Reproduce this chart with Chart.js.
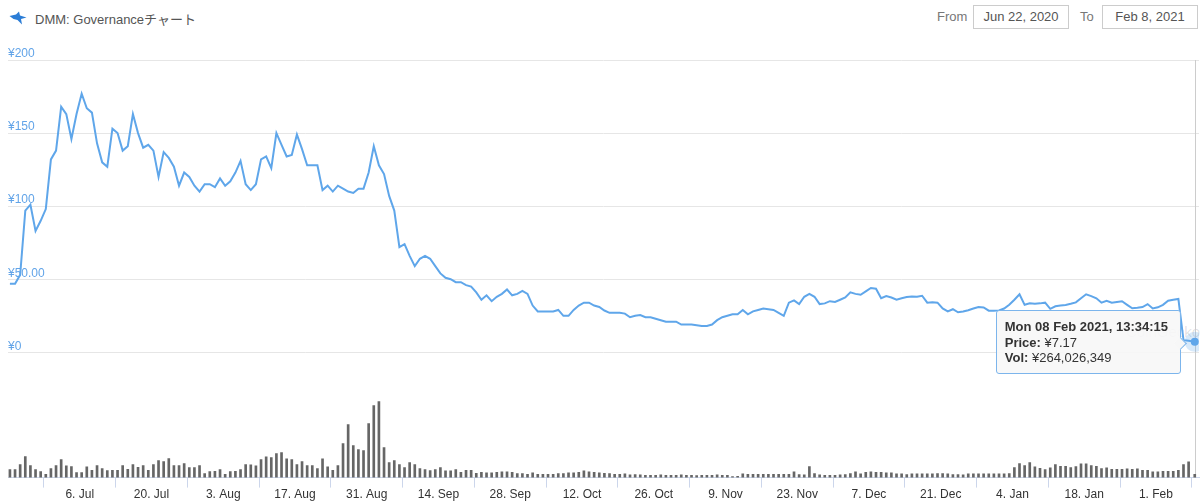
<!DOCTYPE html>
<html lang="ja">
<head>
<meta charset="UTF-8">
<title>DMM: Governanceチャート</title>
<style>
  body {
    margin: 0;
    background: #fff;
    font-family: "Liberation Sans", Arial, "Noto Sans CJK JP", sans-serif;
    color: #555;
  }
  .page { position: relative; width: 1200px; height: 504px; overflow: hidden; }
  .chart-box { position: absolute; left: 0; top: 0; width: 1200px; height: 504px; }
  .logo { position: absolute; left: 9px; top: 11px; }
  .title { position: absolute; left: 35px; top: 9px; font-size: 13px; color: #555; }
  .lbl { position: absolute; top: 5px; line-height: 24px; font-size: 13px; color: #777; }
  .datebox {
    position: absolute; top: 5px; width: 94px; height: 22px; line-height: 22px;
    border: 1px solid #ccc; text-align: center; font-size: 13px; color: #555;
  }
  .watermark {
    position: absolute; left: 1126px; top: 323px; font-size: 15px;
    color: rgba(0, 0, 0, 0.13);
  }
  #tip {
    position: absolute; display: none; box-sizing: border-box;
    width: 185px; height: 64px; padding: 8px 8px;
    background: rgba(247, 247, 247, 0.9);
    border: 1px solid #7cb5ec; border-radius: 3px;
    font-size: 13px; line-height: 15.7px; color: #333; white-space: nowrap;
  }
  #tip::after {
    content: ''; position: absolute; right: -5px; top: 28px;
    width: 8px; height: 8px; background: rgb(247, 247, 247);
    border-top: 1px solid #7cb5ec; border-right: 1px solid #7cb5ec;
    transform: rotate(45deg);
  }
  #tip b { color: #333; }
</style>
</head>
<body>
<div class="page">
  <svg class="logo" width="18" height="14" viewBox="0 0 18 14">
    <path d="M0.5 5 L7 3.5 L10 0.5 L11 4.5 L17.5 6.5 L12 8 L13 13.5 L8.5 9 L4.5 8 Z" fill="#2b7dd6"/>
  </svg>
  <div class="title">DMM: Governanceチャート</div>
  <div class="lbl" style="left:937px">From</div>
  <div class="datebox" style="left:973px">Jun 22, 2020</div>
  <div class="lbl" style="left:1080px">To</div>
  <div class="datebox" style="left:1102px">Feb 8, 2021</div>

  <div class="watermark">CoinGecko</div>
  <div class="chart-box"><canvas id="govChart"></canvas></div>
  <div id="tip"></div>
</div>

<script src="https://cdn.jsdelivr.net/npm/chart.js@4"></script>
<script>
  // daily closes (JPY), Jun 22 2020 -> Feb 7 2021, last one is the live price on Feb 8
  const priceValues = [
    47, 47, 53, 97, 101, 83, 90, 98, 132, 138,
    168, 163, 146, 163, 177, 167, 164, 143, 130, 127,
    153, 150, 138, 141, 163, 150, 140, 142, 138, 120,
    137, 133, 127, 114, 123, 120, 114, 110, 115, 115,
    113, 119, 114, 117, 123, 131, 115, 111, 115, 132,
    134, 126, 150, 142, 134, 135, 149, 139, 128, 128,
    128, 111, 114, 110, 114, 112, 110, 109, 112, 112,
    123, 141, 128, 122, 107, 97, 72, 74, 66, 59,
    64, 66, 64, 59, 54, 51, 50, 48, 48, 46,
    45, 41, 36, 39, 35, 38, 40, 43, 39, 40,
    42, 40, 32, 28, 28, 28, 28, 29, 25, 25,
    29, 32, 34, 34, 32, 31, 28.6, 27, 27, 27,
    26.5, 24, 25, 25.5, 24, 24, 23, 22, 21, 21,
    21, 19, 19, 19, 18.5, 18, 18, 19, 22, 24,
    25, 26, 26, 29, 26, 28, 29, 30, 29.5, 29,
    27, 25, 34, 35.5, 33, 38, 40, 38, 33, 33.5,
    35, 34.5, 36, 37.5, 41, 40, 39.4, 41.7, 44, 43.5,
    37, 38.5, 37.5, 36, 37, 37.8, 38.2, 38, 38.7, 34,
    34.3, 34, 30, 28, 29.5, 27.4, 28, 28.8, 30, 31,
    30.7, 28.5, 28.5, 28.7, 30, 32.5, 36, 39.7, 32.5, 33.5,
    33.3, 33.5, 34, 29.8, 31.5, 32, 32.4, 33.2, 34.2, 37,
    39.7, 38.5, 37, 34, 35.3, 34, 34.5, 35, 32.5, 30.1,
    30.5, 31, 33, 30, 30.8, 32.5, 35.3, 36, 36.5, 8.3,
    7.9, 7.17
  ];

  // volume in millions of yen, same points as priceValues
  const volumeValues = [
    640, 640, 1040, 1680, 960, 640, 480, 264, 720, 960,
    1440, 936, 880, 400, 400, 856, 584, 960, 720, 560,
    584, 584, 960, 664, 1040, 824, 960, 584, 1040, 1360,
    1280, 1520, 960, 960, 1120, 800, 800, 960, 320, 480,
    504, 640, 264, 480, 504, 640, 1040, 1016, 936, 1440,
    1656, 1600, 1920, 2000, 1496, 1440, 1040, 1280, 960, 960,
    720, 1496, 856, 584, 960, 2720, 4240, 2560, 2240, 2160,
    4320, 5760, 6080, 2400, 1200, 1360, 1040, 800, 1200, 1040,
    720, 640, 560, 640, 800, 536, 536, 640, 424, 584,
    584, 344, 424, 376, 376, 424, 456, 456, 424, 320,
    320, 264, 376, 264, 264, 264, 264, 320, 320, 376,
    376, 424, 536, 456, 424, 376, 344, 320, 264, 264,
    296, 216, 240, 216, 184, 184, 184, 216, 184, 184,
    184, 216, 184, 184, 160, 184, 184, 184, 216, 184,
    184, 80, 104, 296, 264, 264, 264, 264, 264, 264,
    264, 264, 264, 456, 240, 216, 880, 320, 216, 184,
    184, 184, 216, 240, 320, 456, 296, 424, 456, 424,
    424, 376, 376, 296, 296, 240, 296, 296, 296, 296,
    296, 320, 320, 296, 240, 240, 216, 296, 296, 296,
    296, 296, 296, 296, 296, 320, 800, 1120, 960, 1200,
    856, 744, 640, 776, 1040, 904, 904, 800, 880, 1096,
    1096, 960, 904, 720, 776, 664, 664, 664, 696, 664,
    696, 584, 584, 456, 456, 504, 504, 504, 584, 1040,
    1256, 264.026349
  ];

  // days counted from Jun 22 2020 00:00 (JST)
  const firstPointDay = 0.375;
  const lastPointDay = 231.57;
  const rangeEndDay = 232.4;

  const xTickDays = [14, 28, 42, 56, 70, 84, 98, 112, 126, 140, 154, 168, 182, 196, 210, 224];
  const xTickLabels = ['6. Jul', '20. Jul', '3. Aug', '17. Aug', '31. Aug', '14. Sep', '28. Sep', '12. Oct',
                       '26. Oct', '9. Nov', '23. Nov', '7. Dec', '21. Dec', '4. Jan', '18. Jan', '1. Feb'];
  const yTickValues = [0, 50, 100, 150, 200];
  const yTickLabels = ['¥0', '¥50.00', '¥100', '¥150', '¥200'];
  const hoverTime = 'Mon 08 Feb 2021, 13:34:15';

  const lineColor = '#5fa6ea';

  const pointDay = i => (i === priceValues.length - 1 ? lastPointDay : firstPointDay + i);
  const pricePoints = priceValues.map((v, i) => ({ x: pointDay(i), y: v }));
  const volumePoints = volumeValues.map((v, i) => ({ x: pointDay(i), y: v }));

  const tipEl = document.getElementById('tip');

  function drawTip(context) {
    const tooltip = context.tooltip;
    if (tooltip.opacity === 0 || !tooltip.dataPoints || !tooltip.dataPoints.length) {
      tipEl.style.display = 'none';
      return;
    }
    const idx = tooltip.dataPoints[0].dataIndex;
    const price = priceValues[idx];
    const vol = Math.round(volumeValues[idx] * 1e6);
    tipEl.innerHTML =
      '<b>' + hoverTime + '</b><br>' +
      '<b>Price:</b> ¥' + price + '<br>' +
      '<b>Vol:</b> ¥' + vol.toLocaleString('en-US');
    tipEl.style.display = 'block';
    tipEl.style.left = (tooltip.caretX - 15 - 185) + 'px';
    tipEl.style.top = (tooltip.caretY - 32) + 'px';
  }

  // grey vertical line through the hovered point
  const crosshair = {
    id: 'crosshair',
    beforeDatasetsDraw(chart) {
      const act = chart.getActiveElements();
      if (!act.length) return;
      const ctx = chart.ctx;
      const x = Math.round(act[0].element.x) + 0.5;
      ctx.save();
      ctx.strokeStyle = '#cccccc';
      ctx.lineWidth = 1;
      ctx.beginPath();
      ctx.moveTo(x, chart.chartArea.top);
      ctx.lineTo(x, chart.chartArea.bottom);
      ctx.stroke();
      ctx.restore();
    }
  };

  const chart = new Chart(document.getElementById('govChart'), {
    type: 'line',
    data: {
      datasets: [
        {
          label: 'Price',
          data: pricePoints,
          yAxisID: 'y',
          borderColor: lineColor,
          borderWidth: 2,
          tension: 0,
          pointRadius: 0,
          pointHoverRadius: 4,
          pointHoverBackgroundColor: lineColor,
          pointHoverBorderColor: 'rgba(95, 166, 234, 0.25)',
          pointHoverBorderWidth: 12
        },
        {
          type: 'bar',
          label: 'Vol',
          data: volumePoints,
          yAxisID: 'yv',
          backgroundColor: '#666666',
          barThickness: 2
        }
      ]
    },
    options: {
      responsive: true,
      maintainAspectRatio: false,
      animation: false,
      events: [],
      layout: { padding: { left: 8, right: 0, top: 60, bottom: 2 } },
      plugins: {
        legend: { display: false },
        tooltip: { enabled: false, mode: 'nearest', intersect: false, external: drawTip }
      },
      scales: {
        x: {
          type: 'linear',
          min: 0,
          max: rangeEndDay,
          offset: false,
          afterBuildTicks: s => { s.ticks = xTickDays.map(v => ({ value: v })); },
          ticks: {
            autoSkip: false,
            maxRotation: 0,
            padding: 0,
            color: '#333',
            font: { size: 12, family: '"Liberation Sans", Arial, sans-serif' },
            callback: (v, i) => xTickLabels[i]
          },
          grid: { drawOnChartArea: false, tickLength: 10, color: '#ccd6eb' },
          border: { color: '#ccd6eb' }
        },
        y: {
          type: 'linear',
          position: 'left',
          min: -85.7,
          max: 200,
          afterBuildTicks: s => { s.ticks = yTickValues.map(v => ({ value: v })); },
          ticks: {
            mirror: true,
            padding: 0,
            labelOffset: -6,
            color: '#62a4e8',
            font: { size: 12, family: '"Liberation Sans", Arial, sans-serif' },
            callback: (v, i) => yTickLabels[i]
          },
          grid: { color: '#e6e6e6', drawTicks: false },
          border: { display: false }
        },
        yv: {
          type: 'linear',
          display: false,
          min: 0,
          max: 33380
        }
      }
    },
    plugins: [crosshair]
  });

  const lastIndex = priceValues.length - 1;
  chart.setActiveElements([{ datasetIndex: 0, index: lastIndex }]);
  chart.tooltip.setActiveElements([{ datasetIndex: 0, index: lastIndex }], { x: 0, y: 0 });
  chart.update();
</script>
</body>
</html>
